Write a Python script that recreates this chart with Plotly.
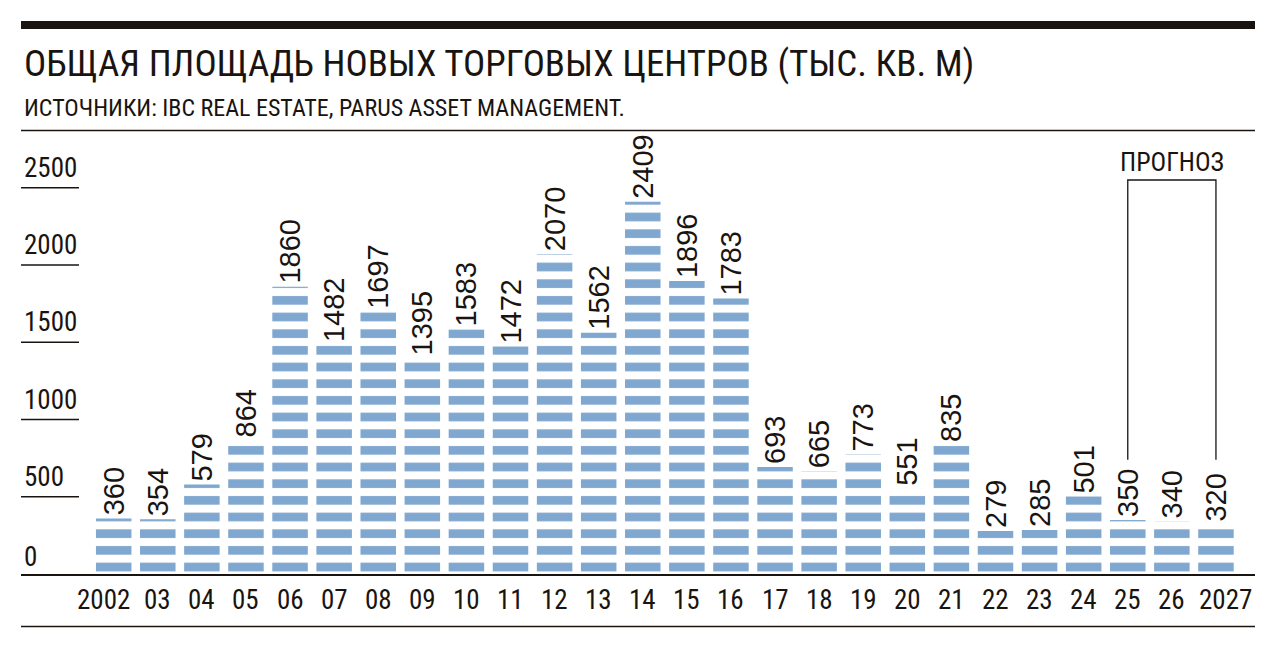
import plotly.graph_objects as go

# ---------------- data ----------------
years = ["2002", "03", "04", "05", "06", "07", "08", "09", "10", "11", "12", "13",
         "14", "15", "16", "17", "18", "19", "20", "21", "22", "23", "24", "25", "26", "2027"]
values = [360, 354, 579, 864, 1860, 1482, 1697, 1395, 1583, 1472, 2070, 1562,
          2409, 1896, 1783, 693, 665, 773, 551, 835, 279, 285, 501, 350, 340, 320]
y_ticks = [0, 500, 1000, 1500, 2000, 2500]
y_tick_labels = ["0", "500", "1000", "1500", "2000", "2500"]
forecast_years = ["25", "2027"]
forecast_label = "ПРОГНОЗ"
forecast_bracket = [740, 2550]   # bottom / top of bracket in chart units
title = "ОБЩАЯ ПЛОЩАДЬ НОВЫХ ТОРГОВЫХ ЦЕНТРОВ (ТЫС. КВ. М)"
subtitle = "ИСТОЧНИКИ: IBC REAL ESTATE, PARUS ASSET MANAGEMENT."

# ---------------- style ----------------
BLUE = "#7fa7cf"
INK = "#1a1410"
NARROW = "Roboto Condensed, DejaVu Sans Condensed, sans-serif"
REG = "Liberation Sans, Arial, sans-serif"

OFF = 8                      # page body margin
SCR_W, SCR_H = 1276, 648
L, R, T, B = 21, 1255, 142, 574   # plot area in screen pixels
W, H = R - L, B - T
PX_PER_UNIT = 0.1545
Y_MAX = H / PX_PER_UNIT
SPACING = 44.09
FIRST_CENTER = 113.7
x_lo = -(FIRST_CENTER - L) / SPACING
x_hi = x_lo + W / SPACING


def pxx(x):
    return (x - L) / W


def pxy(y):
    return (B - y) / H


idx = list(range(len(years)))

fig = go.Figure()
fig.add_trace(go.Bar(
    x=idx, y=values, width=0.805,
    marker=dict(color=BLUE, line=dict(width=0),
                pattern=dict(shape="-", size=16.667, solidity=0.52,
                             fgcolor=BLUE, fillmode="replace")),
    text=[str(v) for v in values], textposition="outside", textangle=-90,
    constraintext="none", cliponaxis=False,
    textfont=dict(family=REG, size=29, color=INK),
    hoverinfo="skip", showlegend=False,
))

shapes = []
annotations = []

shapes.append(dict(type="rect", xref="paper", yref="paper", x0=pxx(21), x1=pxx(1255),
                   y0=pxy(21), y1=pxy(29), fillcolor=INK, line=dict(width=0)))
shapes.append(dict(type="line", xref="paper", yref="paper", x0=pxx(21), x1=pxx(1255),
                   y0=pxy(130.5), y1=pxy(130.5), line=dict(color=INK, width=1.3)))
shapes.append(dict(type="line", xref="paper", yref="paper", x0=pxx(21), x1=pxx(1255),
                   y0=pxy(626.5), y1=pxy(626.5), line=dict(color=INK, width=1.3)))

for v, lab in zip(y_ticks, y_tick_labels):
    if v > 0:
        shapes.append(dict(type="line", xref="paper", yref="y", x0=pxx(21), x1=pxx(79),
                           y0=v, y1=v, line=dict(color=INK, width=1.3)))
    annotations.append(dict(text=lab, xref="paper", yref="y", x=pxx(22), y=v,
                            xanchor="left", yanchor="bottom", yshift=2 if v > 0 else -1,
                            showarrow=False, font=dict(family=NARROW, size=27, color=INK)))

n = len(years)
for i, lab in enumerate(years):
    if i == 0:
        xa, xv = "right", i + 0.42
    elif i == n - 1:
        xa, xv = "left", i - 0.42
    else:
        xa, xv = "center", i
    annotations.append(dict(text=lab, x=xv, y=0, xref="x", yref="y", xanchor=xa,
                            yanchor="top", yshift=-8, showarrow=False,
                            font=dict(family=NARROW, size=27, color=INK)))

i0, i1 = years.index(forecast_years[0]), years.index(forecast_years[1])
yb, yt = forecast_bracket
shapes.append(dict(type="path", xref="x", yref="y",
                   path=f"M{i0},{yb} L{i0},{yt} L{i1},{yt} L{i1},{yb}",
                   line=dict(color=INK, width=1.3)))
annotations.append(dict(text=forecast_label, x=(i0 + i1) / 2, y=yt, xref="x", yref="y",
                        xanchor="center", yanchor="bottom", yshift=1, showarrow=False,
                        font=dict(family=NARROW, size=26, color=INK)))

annotations.append(dict(text=title, xref="paper", yref="paper", x=pxx(22), y=pxy(40),
                        xanchor="left", yanchor="top", showarrow=False,
                        font=dict(family=NARROW, size=37, color=INK)))
annotations.append(dict(text=subtitle, xref="paper", yref="paper", x=pxx(22), y=pxy(92),
                        xanchor="left", yanchor="top", showarrow=False,
                        font=dict(family=NARROW, size=24, color=INK)))

fig.update_layout(
    width=SCR_W - OFF, height=SCR_H - OFF,
    margin=dict(l=L - OFF, r=SCR_W - R, t=T - OFF, b=SCR_H - B, pad=0),
    paper_bgcolor="white", plot_bgcolor="white",
    xaxis=dict(range=[x_lo, x_hi], showgrid=False, zeroline=False, showticklabels=False,
               ticks="", showline=True, linecolor=INK, linewidth=1.5, fixedrange=True),
    yaxis=dict(range=[0, Y_MAX], showgrid=False, zeroline=False, showticklabels=False,
               ticks="", showline=False, fixedrange=True),
    shapes=shapes, annotations=annotations,
)

fig.write_html("out.html")
